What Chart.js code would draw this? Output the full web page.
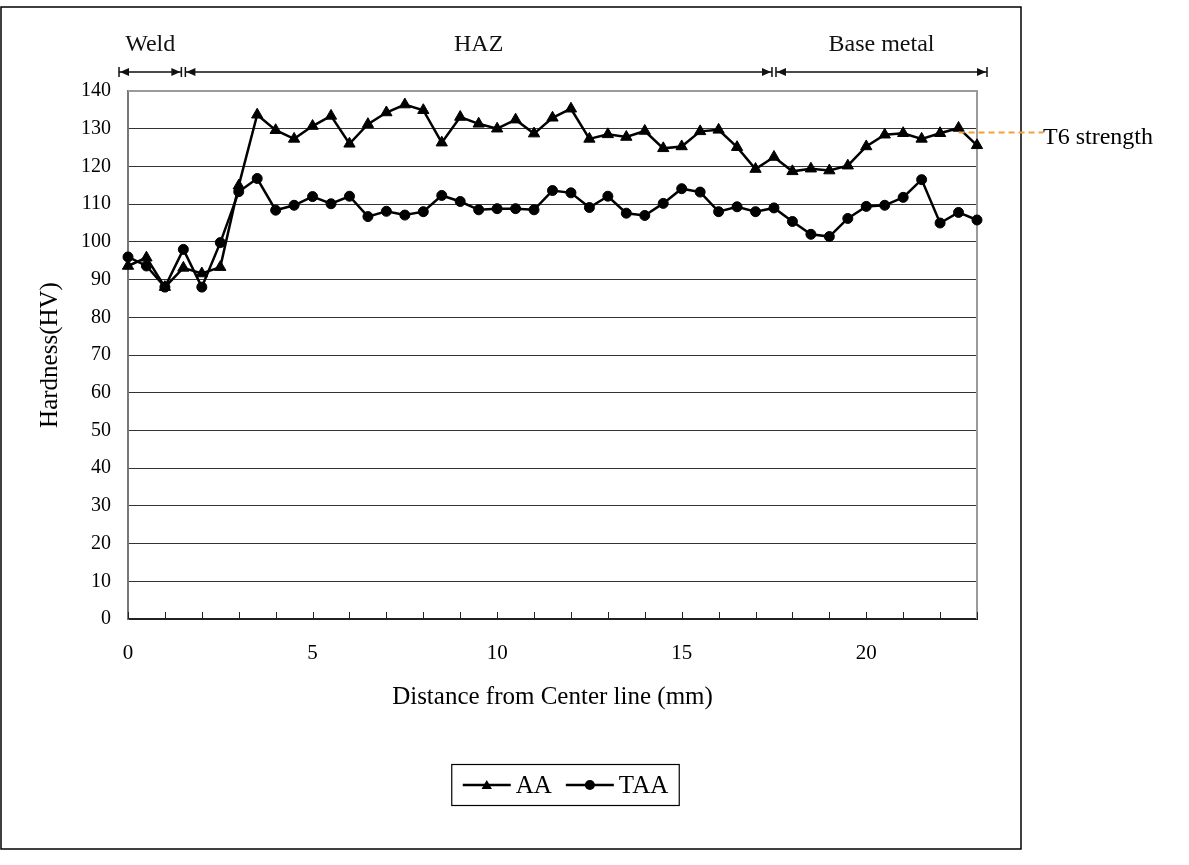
<!DOCTYPE html>
<html lang="en">
<head>
    <meta charset="UTF-8">
    <title>Hardness profile</title>
    <script src="https://cdn.jsdelivr.net/npm/chart.js"></script>
    <style>
        body {
            margin: 0;
            background: #ffffff;
        }
        canvas {
            display: block;
        }
    </style>
</head>
<body>
    <canvas id="hardnessChart" width="1189" height="865"></canvas>

    <script>
        // Hardness readings every 0.5 mm from the weld center line
        const distances = [0, 0.5, 1, 1.5, 2, 2.5, 3, 3.5, 4, 4.5, 5, 5.5, 6, 6.5, 7, 7.5, 8, 8.5, 9, 9.5,
            10, 10.5, 11, 11.5, 12, 12.5, 13, 13.5, 14, 14.5, 15, 15.5, 16, 16.5, 17, 17.5, 18, 18.5, 19, 19.5,
            20, 20.5, 21, 21.5, 22, 22.5, 23];
        const aaHardness = [93.6, 95.8, 88.0, 93.1, 91.6, 93.3, 114.9, 133.7, 129.6, 127.3, 130.7, 133.4, 126.0, 131.2, 134.3, 136.4, 134.9, 126.3, 133.1, 131.3,
            130.0, 132.4, 128.7, 132.9, 135.3, 127.3, 128.5, 127.8, 129.4, 124.8, 125.3, 129.3, 129.7, 125.1, 119.3, 122.5, 118.7, 119.4, 118.9, 120.2,
            125.3, 128.4, 128.8, 127.3, 128.8, 130.2, 125.6];
        const taaHardness = [96.0, 93.6, 88.0, 98.0, 88.0, 99.8, 113.3, 116.8, 108.4, 109.7, 112.0, 110.1, 112.1, 106.7, 108.1, 107.1, 108.0, 112.3, 110.7, 108.5,
            108.8, 108.8, 108.5, 113.6, 113.0, 109.1, 112.1, 107.6, 107.0, 110.2, 114.1, 113.2, 108.0, 109.3, 108.0, 109.0, 105.4, 102.0, 101.4, 106.2,
            109.4, 109.7, 111.8, 116.5, 105.0, 107.8, 105.8];
        const seriesNames = ['AA', 'TAA'];
        const xLabelValues = [0, 5, 10, 15, 20];

        // zones marked above the plot
        const zoneEdges = [0, 1.5, 17.5, 23];
        const zoneNames = ['Weld', 'HAZ', 'Base metal'];

        const t6Strength = 129;
        const t6Label = 'T6 strength';

        const serif = "'Liberation Serif', 'Times New Roman', serif";

        function drawTriangle(ctx, cx, cy, r) {
            ctx.beginPath();
            for (let i = 0; i < 3; i++) {
                const a = i * 2 * Math.PI / 3;
                const px = cx + Math.sin(a) * r;
                const py = cy - Math.cos(a) * r;
                if (i === 0) ctx.moveTo(px, py); else ctx.lineTo(px, py);
            }
            ctx.closePath();
            ctx.fill();
        }

        function arrowHead(ctx, tipX, y, dir) {
            ctx.beginPath();
            ctx.moveTo(tipX, y);
            ctx.lineTo(tipX - dir * 9, y - 4);
            ctx.lineTo(tipX - dir * 9, y + 4);
            ctx.closePath();
            ctx.fill();
        }

        const decorations = {
            id: 'decorations',
            beforeDraw(chart) {
                const ctx = chart.ctx;
                ctx.save();
                ctx.fillStyle = '#ffffff';
                ctx.fillRect(0, 0, chart.width, chart.height);
                // outer chart frame
                ctx.strokeStyle = '#000000';
                ctx.lineWidth = 1.5;
                ctx.strokeRect(1, 7, 1020, 842);
                ctx.restore();
            },
            beforeDatasetsDraw(chart) {
                const { ctx, chartArea: a, scales: { x } } = chart;
                ctx.save();
                // right and top frame of the plot
                ctx.strokeStyle = '#9a9a9a';
                ctx.lineWidth = 2;
                ctx.beginPath();
                ctx.moveTo(a.left, a.top);
                ctx.lineTo(a.right, a.top);
                ctx.lineTo(a.right, a.bottom);
                ctx.stroke();
                // tick marks pointing into the plot
                ctx.strokeStyle = '#222222';
                ctx.lineWidth = 1;
                x.ticks.forEach(t => {
                    const px = Math.round(x.getPixelForValue(t.value)) + 0.5;
                    ctx.beginPath();
                    ctx.moveTo(px, a.bottom);
                    ctx.lineTo(px, a.bottom - 7);
                    ctx.stroke();
                });
                ctx.restore();
            },
            afterDraw(chart) {
                const { ctx, chartArea: a, scales: { x, y } } = chart;
                ctx.save();

                // zone arrows
                const arrowY = a.top - 19;
                ctx.strokeStyle = '#111111';
                ctx.fillStyle = '#111111';
                ctx.lineWidth = 1.5;
                ctx.font = '24px ' + serif;
                ctx.textAlign = 'center';
                ctx.textBaseline = 'middle';
                for (let i = 0; i < zoneNames.length; i++) {
                    const last = i === zoneNames.length - 1;
                    const x1 = x.getPixelForValue(zoneEdges[i]) + (i === 0 ? -9 : 2);
                    const x2 = x.getPixelForValue(zoneEdges[i + 1]) + (last ? 10 : -2);
                    ctx.beginPath();
                    ctx.moveTo(x1, arrowY);
                    ctx.lineTo(x2, arrowY);
                    ctx.moveTo(x1, arrowY - 5);
                    ctx.lineTo(x1, arrowY + 5);
                    ctx.moveTo(x2, arrowY - 5);
                    ctx.lineTo(x2, arrowY + 5);
                    ctx.stroke();
                    arrowHead(ctx, x1 + 1, arrowY, -1);
                    arrowHead(ctx, x2 - 1, arrowY, 1);
                    ctx.fillText(zoneNames[i], (x1 + x2) / 2, a.top - 46);
                }

                // T6 strength reference
                const ty = y.getPixelForValue(t6Strength);
                ctx.strokeStyle = '#f5a033';
                ctx.lineWidth = 2;
                ctx.setLineDash([6, 4]);
                ctx.beginPath();
                ctx.moveTo(x.getPixelForValue(22.5), ty);
                ctx.lineTo(a.right + 66, ty);
                ctx.stroke();
                ctx.setLineDash([]);
                ctx.fillStyle = '#000000';
                ctx.textAlign = 'left';
                ctx.fillText(t6Label, a.right + 66, ty + 5);

                // legend
                ctx.font = '25px ' + serif;
                const lineLen = 48, gap = 5, itemGap = 14, pad = 11;
                const widths = seriesNames.map(n => ctx.measureText(n).width);
                const total = widths.reduce((s, w) => s + lineLen + gap + w, 0) + itemGap * (seriesNames.length - 1);
                const boxW = total + pad * 2;
                const boxH = 41;
                const cx = (a.left + a.right) / 2 + 13;
                const cy = a.bottom + 166;
                ctx.strokeStyle = '#000000';
                ctx.lineWidth = 1.2;
                ctx.strokeRect(cx - boxW / 2, cy - boxH / 2, boxW, boxH);
                let lx = cx - boxW / 2 + pad;
                seriesNames.forEach((n, i) => {
                    ctx.strokeStyle = '#000000';
                    ctx.fillStyle = '#000000';
                    ctx.lineWidth = 2.5;
                    ctx.beginPath();
                    ctx.moveTo(lx, cy);
                    ctx.lineTo(lx + lineLen, cy);
                    ctx.stroke();
                    if (i === 0) {
                        drawTriangle(ctx, lx + lineLen / 2, cy + 1, 6);
                    } else {
                        ctx.beginPath();
                        ctx.arc(lx + lineLen / 2, cy, 5, 0, Math.PI * 2);
                        ctx.fill();
                    }
                    ctx.textAlign = 'left';
                    ctx.textBaseline = 'middle';
                    ctx.fillText(n, lx + lineLen + gap, cy + 1);
                    lx += lineLen + gap + widths[i] + itemGap;
                });

                ctx.restore();
            }
        };

        const ctx = document.getElementById('hardnessChart').getContext('2d');

        new Chart(ctx, {
            type: 'line',
            data: {
                datasets: [
                    {
                        label: seriesNames[0],
                        data: distances.map((d, i) => ({ x: d, y: aaHardness[i] })),
                        borderColor: '#000000',
                        backgroundColor: '#000000',
                        borderWidth: 2.5,
                        pointStyle: 'triangle',
                        pointRadius: 6.5,
                        pointBorderWidth: 1,
                        tension: 0,
                        clip: false
                    },
                    {
                        label: seriesNames[1],
                        data: distances.map((d, i) => ({ x: d, y: taaHardness[i] })),
                        borderColor: '#000000',
                        backgroundColor: '#000000',
                        borderWidth: 2.5,
                        pointStyle: 'circle',
                        pointRadius: 5,
                        pointBorderWidth: 1,
                        tension: 0,
                        clip: false
                    }
                ]
            },
            options: {
                responsive: false,
                animation: false,
                layout: {
                    padding: { left: 30, top: 91, right: 212, bottom: 151 }
                },
                plugins: {
                    legend: { display: false },
                    tooltip: { enabled: false }
                },
                scales: {
                    x: {
                        type: 'linear',
                        min: 0,
                        max: 23,
                        afterFit: s => { s.height = 95; },
                        ticks: {
                            stepSize: 1,
                            autoSkip: false,
                            maxRotation: 0,
                            padding: 22,
                            color: '#000000',
                            font: { family: serif, size: 21 },
                            callback: v => xLabelValues.includes(v) ? String(v) : ''
                        },
                        grid: { drawOnChartArea: false, drawTicks: false },
                        border: { display: true, color: '#222222', width: 2 },
                        title: {
                            display: true,
                            text: 'Distance from Center line (mm)',
                            color: '#000000',
                            font: { family: serif, size: 25 },
                            padding: { top: 0, bottom: 2 }
                        }
                    },
                    y: {
                        min: 0,
                        max: 140,
                        afterFit: s => { s.width = 98; },
                        ticks: {
                            stepSize: 10,
                            padding: 17,
                            color: '#000000',
                            font: { family: serif, size: 20 }
                        },
                        grid: {
                            drawTicks: false,
                            lineWidth: 1,
                            color: c => c.tick && c.tick.value === 140 ? '#9a9a9a' : '#333333'
                        },
                        border: { display: true, color: '#777777', width: 2 },
                        title: {
                            display: true,
                            text: 'Hardness(HV)',
                            color: '#000000',
                            font: { family: serif, size: 25 },
                            padding: { top: 5, bottom: 0 }
                        }
                    }
                }
            },
            plugins: [decorations]
        });
    </script>
</body>
</html>
